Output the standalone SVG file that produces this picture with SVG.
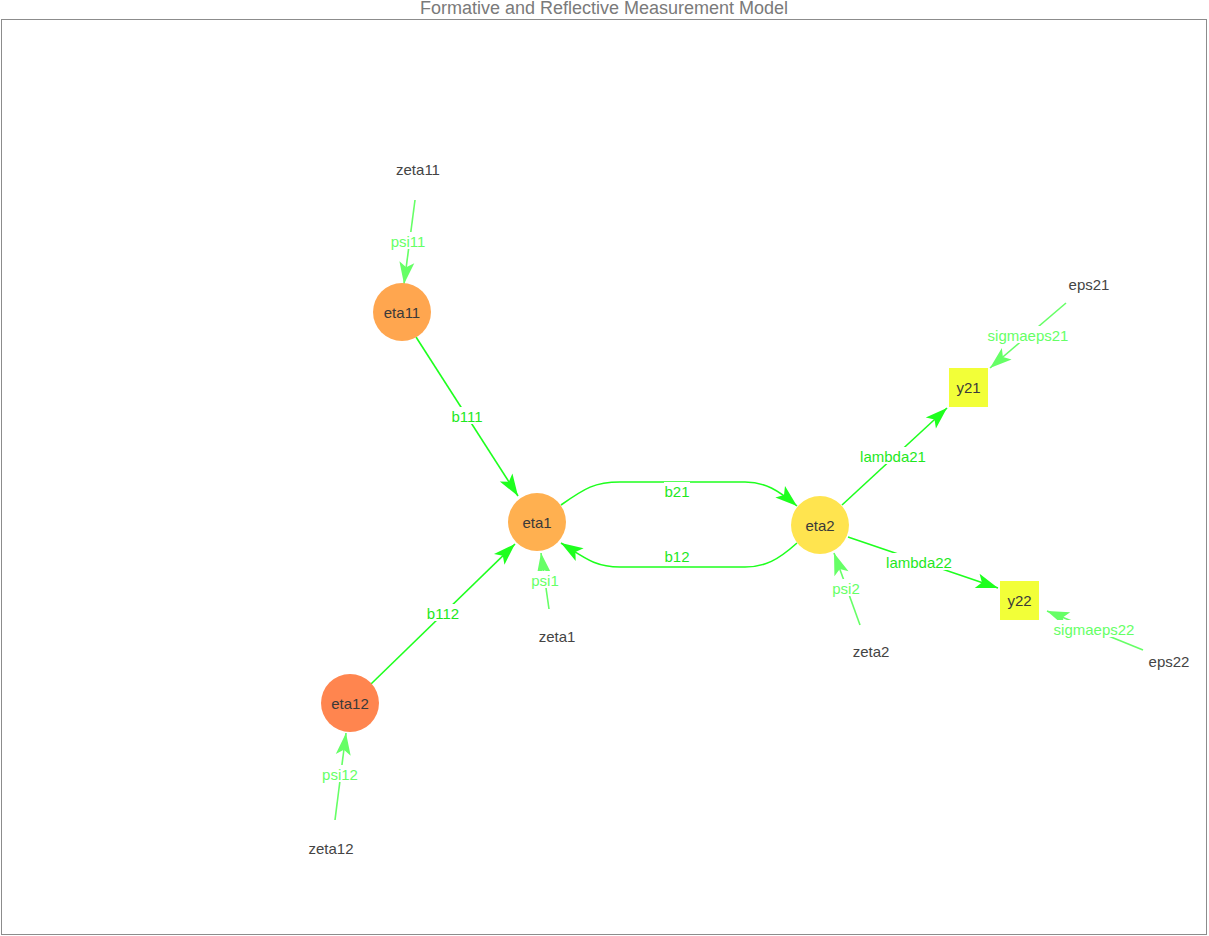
<svg xmlns="http://www.w3.org/2000/svg" width="1209" height="936" viewBox="0 0 1209 936">
  <style>
    .title { font-family: "Liberation Sans", Arial, sans-serif; font-size: 18px; fill: #7a7a7a; text-anchor: middle; }
    .frame { fill: #ffffff; stroke: #8c8c8c; stroke-width: 1; }
    .nlabel { font-family: "Liberation Sans", Arial, sans-serif; font-size: 15px; fill: #3a3a3a; text-anchor: middle; dominant-baseline: central; }
    .ext { font-family: "Liberation Sans", Arial, sans-serif; font-size: 15px; fill: #444444; text-anchor: middle; dominant-baseline: central; }
    .path { fill: none; stroke: #1eff1e; stroke-width: 1.6; marker-end: url(#arrowPath); }
    .var { fill: none; stroke: #66ff66; stroke-width: 1.6; marker-end: url(#arrowVar); }
    .lp { font-family: "Liberation Sans", Arial, sans-serif; font-size: 15px; fill: #1ee81e; text-anchor: middle; dominant-baseline: central; }
    .lv { font-family: "Liberation Sans", Arial, sans-serif; font-size: 15px; fill: #66ff66; text-anchor: middle; dominant-baseline: central; }
    .bg { fill: #ffffff; }
  </style>
  <defs>
    <marker id="arrowPath" markerUnits="userSpaceOnUse" markerWidth="26" markerHeight="18" viewBox="-24 -9 26 18" refX="0" refY="0" orient="auto">
      <path d="M0,0 L-22,-7.5 L-17,0 L-22,7.5 Z" fill="#1eff1e"/>
    </marker>
    <marker id="arrowVar" markerUnits="userSpaceOnUse" markerWidth="26" markerHeight="18" viewBox="-24 -9 26 18" refX="0" refY="0" orient="auto">
      <path d="M0,0 L-22,-7.5 L-17,0 L-22,7.5 Z" fill="#66ff66"/>
    </marker>
  </defs>

  <rect class="frame" x="1.5" y="19.5" width="1205" height="915"/>
  <text class="title" x="604" y="14">Formative and Reflective Measurement Model</text>

  <g id="connectors">
    <!-- structural paths -->
    <line class="path" x1="416" y1="337" x2="518" y2="496"/>
    <line class="path" x1="371" y1="684" x2="515" y2="544"/>
    <path class="path" d="M561,505 C585,488 595,482 620,482 L745,482 C765,482 778,490 797,506"/>
    <path class="path" d="M797,543 C778,560 765,567 745,567 L620,567 C595,567 585,558 561,543"/>
    <line class="path" x1="842" y1="505" x2="947" y2="408"/>
    <line class="path" x1="848" y1="537" x2="998" y2="588"/>
    <!-- disturbance / error variances -->
    <line class="var" x1="415" y1="200" x2="404" y2="284"/>
    <line class="var" x1="335" y1="820" x2="346" y2="733"/>
    <line class="var" x1="549" y1="609" x2="541" y2="553"/>
    <line class="var" x1="860" y1="625" x2="834" y2="553"/>
    <line class="var" x1="1066" y1="303" x2="990" y2="368"/>
    <line class="var" x1="1143" y1="650" x2="1047" y2="611"/>

    <!-- edge labels -->
    <rect class="bg" x="450" y="407" width="34" height="17"/>
    <text class="lp" x="467" y="416">b111</text>
    <rect class="bg" x="426" y="604" width="34" height="17"/>
    <text class="lp" x="443" y="613">b112</text>
    <rect class="bg" x="664" y="482" width="26" height="17"/>
    <text class="lp" x="677" y="491">b21</text>
    <rect class="bg" x="664" y="547" width="26" height="17"/>
    <text class="lp" x="677" y="556">b12</text>
    <rect class="bg" x="860" y="447" width="66" height="17"/>
    <text class="lp" x="893" y="456">lambda21</text>
    <rect class="bg" x="886" y="553" width="66" height="17"/>
    <text class="lp" x="919" y="562">lambda22</text>

    <rect class="bg" x="391" y="232" width="34" height="17"/>
    <text class="lv" x="408" y="241">psi11</text>
    <rect class="bg" x="321" y="765" width="38" height="17"/>
    <text class="lv" x="340" y="774">psi12</text>
    <rect class="bg" x="530" y="571" width="30" height="17"/>
    <text class="lv" x="545" y="580">psi1</text>
    <rect class="bg" x="831" y="579" width="30" height="17"/>
    <text class="lv" x="846" y="588">psi2</text>
    <rect class="bg" x="987" y="326" width="82" height="17"/>
    <text class="lv" x="1028" y="335">sigmaeps21</text>
    <rect class="bg" x="1053" y="620" width="82" height="17"/>
    <text class="lv" x="1094" y="629">sigmaeps22</text>
  </g>

  <g id="eta11">
    <circle cx="402" cy="312" r="29" fill="#ffa64f"/>
    <text class="nlabel" x="402" y="312">eta11</text>
  </g>
  <g id="eta12">
    <circle cx="350" cy="703" r="29" fill="#ff854f"/>
    <text class="nlabel" x="350" y="703">eta12</text>
  </g>
  <g id="eta1">
    <circle cx="537" cy="522" r="29" fill="#ffb050"/>
    <text class="nlabel" x="537" y="522">eta1</text>
  </g>
  <g id="eta2">
    <circle cx="820" cy="525" r="29" fill="#ffe44f"/>
    <text class="nlabel" x="820" y="525">eta2</text>
  </g>
  <g id="y21">
    <rect x="949" y="368" width="39" height="39" fill="#f2ff38"/>
    <text class="nlabel" x="968.5" y="387.5">y21</text>
  </g>
  <g id="y22">
    <rect x="1000" y="581" width="39" height="39" fill="#f2ff38"/>
    <text class="nlabel" x="1019.5" y="600.5">y22</text>
  </g>
  <g id="zeta11"><text class="ext" x="418" y="169">zeta11</text></g>
  <g id="zeta12"><text class="ext" x="331" y="848">zeta12</text></g>
  <g id="zeta1"><text class="ext" x="557" y="636">zeta1</text></g>
  <g id="zeta2"><text class="ext" x="871" y="651">zeta2</text></g>
  <g id="eps21"><text class="ext" x="1089" y="284">eps21</text></g>
  <g id="eps22"><text class="ext" x="1169" y="661">eps22</text></g>
</svg>
